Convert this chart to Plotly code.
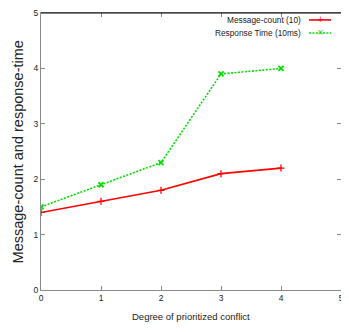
import plotly.graph_objects as go

# data
degree = [0, 1, 2, 3, 4]
message_count = [1.4, 1.6, 1.8, 2.1, 2.2]
response_time = [1.5, 1.9, 2.3, 3.9, 4.0]
series_names = ["Message-count (10)", "Response Time (10ms)"]

FONT = "Liberation Sans, Arial, sans-serif"
RED = "#ff0000"
GREEN = "#00e000"

fig = go.Figure()
fig.add_trace(go.Scatter(
    x=degree, y=message_count, name=series_names[0], mode="lines+markers",
    line=dict(color=RED, width=1.6),
    marker=dict(symbol="cross-thin", size=5, line=dict(color=RED, width=1.3)),
    showlegend=False,
))
fig.add_trace(go.Scatter(
    x=degree, y=response_time, name=series_names[1], mode="lines+markers",
    line=dict(color=GREEN, width=1.6, dash="2px,1.5px"),
    marker=dict(symbol="x-thin", size=5, line=dict(color=GREEN, width=1.8)),
    showlegend=False,
))

# legend in gnuplot style: text right-aligned, line sample on its right
for i, (name, col, dash, sym) in enumerate([
    (series_names[0], RED, "solid", "+"),
    (series_names[1], GREEN, "2px,1.5px", "×"),
]):
    yp = 0.975 - i * 0.047
    fig.add_annotation(xref="paper", yref="paper", x=0.873, y=yp, text=name,
                       showarrow=False, xanchor="right", yanchor="middle",
                       font=dict(family=FONT, size=8.3, color="#222"))
    fig.add_shape(type="line", xref="paper", yref="paper", x0=0.893, x1=0.967,
                  y0=yp, y1=yp, line=dict(color=col, width=1.6, dash=dash))
    fig.add_annotation(xref="paper", yref="paper", x=0.93, y=yp, text=sym,
                       showarrow=False, xanchor="center", yanchor="middle",
                       font=dict(family="DejaVu Sans", size=8, color=col))

# black top border like the reference
fig.add_shape(type="line", xref="paper", yref="paper", x0=0, x1=1, y0=1, y1=1,
              line=dict(color="black", width=1))

# axis titles
fig.add_annotation(xref="paper", yref="paper", x=0.5, y=-0.097,
                   text="Degree of prioritized conflict", showarrow=False,
                   xanchor="center", yanchor="middle",
                   font=dict(family=FONT, size=9.5, color="#222"))
fig.add_annotation(xref="paper", yref="paper", x=-0.077, y=0.5,
                   text="Message-count and response-time", showarrow=False,
                   textangle=-90, xanchor="center", yanchor="middle",
                   font=dict(family=FONT, size=14.5, color="#222"))

axis_common = dict(
    showgrid=False, zeroline=False, showline=True, linecolor="#8a8a8a",
    linewidth=1.2, mirror="ticks", ticks="inside", ticklen=4, tickwidth=1,
    tickcolor="#8a8a8a", tickfont=dict(family=FONT, size=8.5, color="#222"),
    dtick=1, automargin=False, ticklabeloverflow="allow",
)

# page body keeps an 8px margin, so the figure is a bit smaller than the window
fig.update_layout(
    width=341, height=324,
    margin=dict(l=33, r=8, t=5, b=42),
    paper_bgcolor="white", plot_bgcolor="white",
    xaxis=dict(range=[0, 5], **axis_common),
    yaxis=dict(range=[0, 5], **axis_common),
)

fig.write_html("out.html")
